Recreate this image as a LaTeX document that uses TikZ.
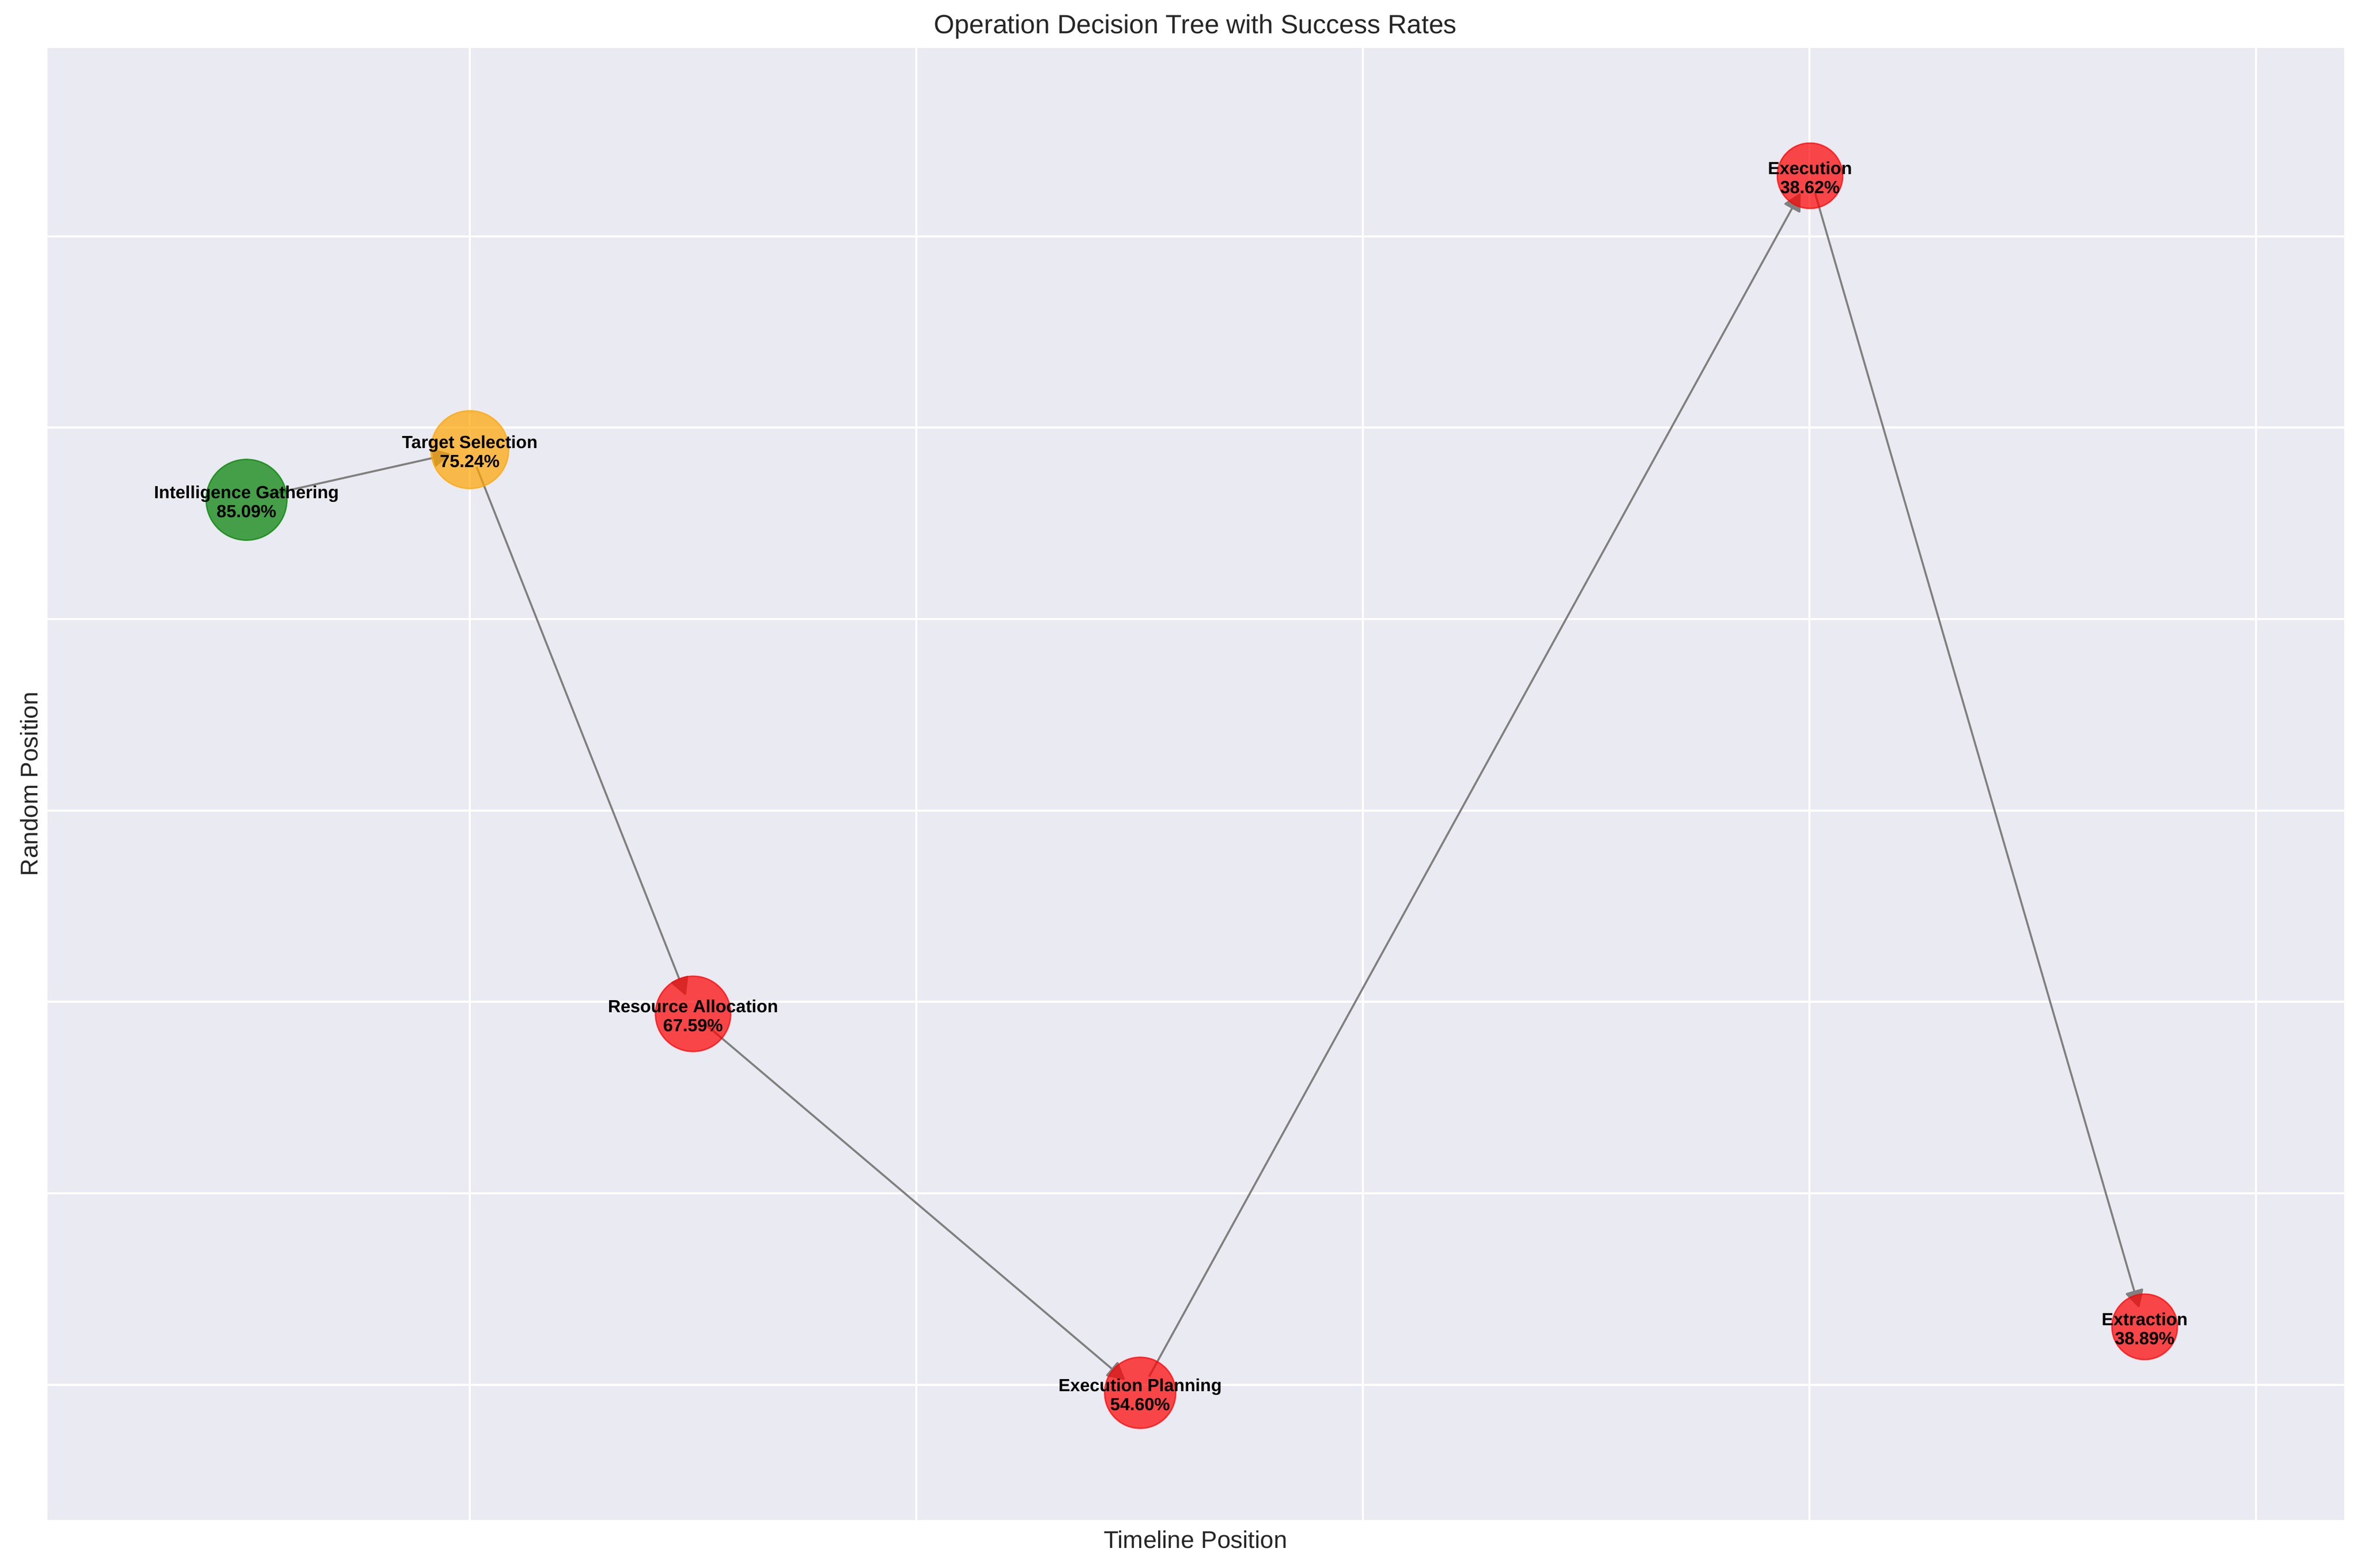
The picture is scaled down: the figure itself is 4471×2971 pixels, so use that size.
\documentclass[tikz,border=0pt]{standalone}
\usepackage{fontspec}
\setmainfont{Liberation Sans}
\usetikzlibrary{arrows.meta}
\definecolor{axbg}{HTML}{EAEAF2}
\definecolor{txtgray}{HTML}{262626}
\definecolor{edgegray}{HTML}{808080}
\definecolor{ngreen}{RGB}{0,128,0}
\definecolor{norange}{RGB}{255,165,0}
\definecolor{nred}{RGB}{255,0,0}
\pgfdeclarelayer{bg}
\pgfdeclarelayer{edges}
\pgfsetlayers{bg,edges,main}
\begin{document}
\begin{tikzpicture}[x=0.24pt,y=-0.24pt,
  opnode/.style={circle,inner sep=0pt,outer sep=0pt,draw=#1,fill=#1,fill opacity=0.7,draw opacity=0.7,line width=0.6pt},
  nlabel/.style={font=\fontsize{8}{8.6}\selectfont\bfseries,align=center,text=black,inner sep=0pt,yshift=-0.85pt},
  flow/.style={draw=edgegray,line width=0.9pt,-{Triangle[length=8.3pt,width=8.6pt,round]},shorten <=8.4pt,shorten >=9.3pt},
  gridline/.style={draw=white,line width=1pt},
  axlabel/.style={text=txtgray,inner sep=0pt,font=\fontsize{11}{13}\selectfont},
  titlestyle/.style={text=txtgray,inner sep=0pt,font=\fontsize{12}{14}\selectfont}
]
\useasboundingbox (0,0) rectangle (4471,2971);
\begin{pgfonlayer}{bg}
  \fill[white] (0,0) rectangle (4471,2971);
  \fill[axbg] (89.5,91) rectangle (4441,2880);
  \foreach \gx in {890,1736,2582,3428,4274}
    \draw[gridline] (\gx,91) -- (\gx,2880);
  \foreach \gy in {447.6,810.3,1173,1535.7,1898.4,2261.1,2623.8}
    \draw[gridline] (89.5,\gy) -- (4441,\gy);
\end{pgfonlayer}

% nodes
\node[opnode=ngreen,minimum size=36.77pt] (ig) at (467,947) {};
\node[opnode=norange,minimum size=35.38pt] (ts) at (890,852) {};
\node[opnode=nred,minimum size=34.27pt] (ra) at (1313,1921) {};
\node[opnode=nred,minimum size=32.35pt] (ep) at (2160,2639) {};
\node[opnode=nred,minimum size=29.76pt] (exe) at (3429,333) {};
\node[opnode=nred,minimum size=29.81pt] (ex) at (4063,2514) {};

% labels
\node[nlabel] (igl) at (ig.center) {Intelligence Gathering\\85.09\%};
\node[nlabel] (tsl) at (ts.center) {Target Selection\\75.24\%};
\node[nlabel] (ral) at (ra.center) {Resource Allocation\\67.59\%};
\node[nlabel] (epl) at (ep.center) {Execution Planning\\54.60\%};
\node[nlabel] (exel) at (exe.center) {Execution\\38.62\%};
\node[nlabel] (exl) at (ex.center) {Extraction\\38.89\%};

% edges
\begin{pgfonlayer}{edges}
  \draw[flow] (ig.center) -- (ts.center);
  \draw[flow] (ts.center) -- (ra.center);
  \draw[flow] (ra.center) -- (ep.center);
  \draw[flow] (ep.center) -- (exe.center);
  \draw[flow] (exe.center) -- (ex.center);
\end{pgfonlayer}

% titles
\node[titlestyle,anchor=base] (title) at (2265,64) {Operation Decision Tree with Success Rates};
\node[axlabel,anchor=base] (xlab) at (2265,2933) {Timeline Position};
\node[axlabel,anchor=base,rotate=90] (ylab) at (71,1485.5) {Random Position};
\end{tikzpicture}
\end{document}
